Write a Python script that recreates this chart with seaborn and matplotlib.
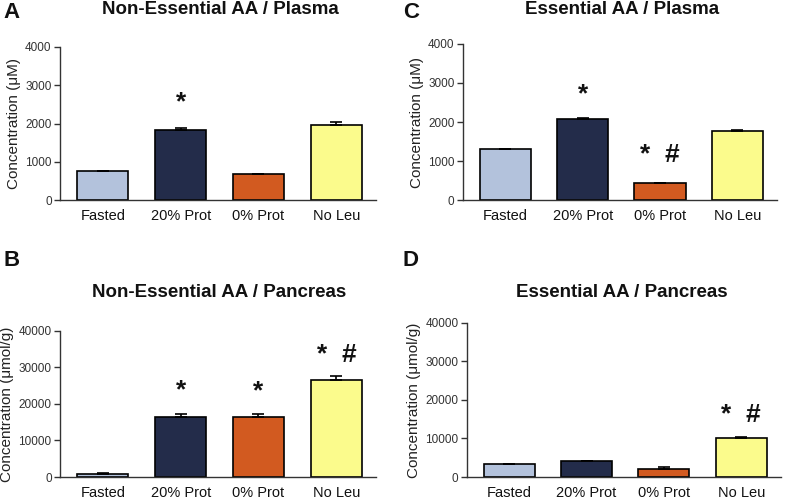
import pandas as pd
import numpy as np
import matplotlib
matplotlib.use("Agg")
import matplotlib.pyplot as plt
import seaborn as sns

groups = ["Fasted", "20% Prot", "0% Prot", "No Leu"]
colors = ["#b3c2dc", "#232c4a", "#d25a20", "#fbfb8c"]

# values (mean) and SEM
nea_plasma = [750, 1820, 670, 1970]
nea_plasma_err = [10, 70, 10, 60]
ea_plasma = [1310, 2080, 430, 1760]
ea_plasma_err = [10, 30, 10, 30]
nea_pancreas = [900, 16500, 16500, 26500]
nea_pancreas_err = [250, 800, 700, 1100]
ea_pancreas = [3300, 4100, 2200, 10000]
ea_pancreas_err = [50, 50, 350, 300]

# significance markers and their heights
nea_plasma_sig = ["", "*", "", ""]
nea_plasma_sig_y = [0, 2550, 0, 0]
ea_plasma_sig = ["", "*", "*  #", ""]
ea_plasma_sig_y = [0, 2700, 1150, 0]
nea_pancreas_sig = ["", "*", "*", "*  #"]
nea_pancreas_sig_y = [0, 23800, 23500, 33500]
ea_pancreas_sig = ["", "", "", "*  #"]
ea_pancreas_sig_y = [0, 0, 0, 16200]

sns.set_style("white")
plt.rcParams["font.family"] = ["Liberation Sans", "DejaVu Sans"]

fig = plt.figure(figsize=(7.87, 4.99), dpi=100)

panels = [
    ("A", "Non-Essential AA / Plasma", nea_plasma, nea_plasma_err, nea_plasma_sig, nea_plasma_sig_y,
     [0.0762, 0.599, 0.4016, 0.307], 4000, "Concentration (\u03bcM)"),
    ("C", "Essential AA / Plasma", ea_plasma, ea_plasma_err, ea_plasma_sig, ea_plasma_sig_y,
     [0.588, 0.599, 0.399, 0.313], 4000, "Concentration (\u03bcM)"),
    ("B", "Non-Essential AA / Pancreas", nea_pancreas, nea_pancreas_err, nea_pancreas_sig, nea_pancreas_sig_y,
     [0.0762, 0.044, 0.4016, 0.293], 40000, "Concentration (\u03bcmol/g)"),
    ("D", "Essential AA / Pancreas", ea_pancreas, ea_pancreas_err, ea_pancreas_sig, ea_pancreas_sig_y,
     [0.593, 0.044, 0.399, 0.309], 40000, "Concentration (\u03bcmol/g)"),
]

letter_pos = {"A": (0.004, 0.995), "C": (0.512, 0.995), "B": (0.004, 0.5), "D": (0.512, 0.5)}
title_pos = {"A": (0.28, 0.998), "C": (0.79, 0.998), "B": (0.278, 0.43), "D": (0.79, 0.43)}

for letter, title, vals, errs, sig, sig_y, rect, ymax, ylab in panels:
    ax = fig.add_axes(rect)
    df = pd.DataFrame({"group": groups, "value": vals})
    sns.barplot(data=df, x="group", y="value", hue="group", palette=colors, order=groups,
                hue_order=groups, width=0.66, saturation=1, edgecolor="black", linewidth=1.2,
                errorbar=None, legend=False, ax=ax)
    xs = np.arange(len(groups))
    ax.errorbar(xs, vals, yerr=[np.zeros(len(errs)), errs], fmt="none", ecolor="black",
                elinewidth=1.2, capsize=4, capthick=1.2)
    for x, s, y in zip(xs, sig, sig_y):
        if s:
            ax.text(x, y, s, ha="center", va="center", fontsize=19, fontweight="bold",
                    color="#111111")
    ax.set_xlim(-0.55, 3.51)
    ax.set_ylim(0, ymax)
    ax.set_yticks(np.linspace(0, ymax, 5))
    ax.set_yticklabels([str(int(v)) for v in np.linspace(0, ymax, 5)], fontsize=8.5, color="#333333")
    ax.set_xticks(xs)
    ax.set_xticklabels(groups, fontsize=10.5, color="#111111")
    ax.set_xlabel("")
    ax.set_ylabel(ylab, fontsize=11, color="#222222", labelpad=3)
    sns.despine(ax=ax)
    for sp in ["left", "bottom"]:
        ax.spines[sp].set_color("#333333")
        ax.spines[sp].set_linewidth(1.0)
    ax.tick_params(axis="y", which="major", left=True, length=4, width=1, color="#333333", pad=2)
    ax.tick_params(axis="x", bottom=False, pad=3)
    fig.text(title_pos[letter][0], title_pos[letter][1], title, ha="center", va="top",
             fontsize=13.5, fontweight="bold", color="#111111")
    fig.text(letter_pos[letter][0], letter_pos[letter][1], letter, ha="left", va="top",
             fontsize=16, fontweight="bold", color="#111111")

fig.savefig("out.png", dpi=100)
